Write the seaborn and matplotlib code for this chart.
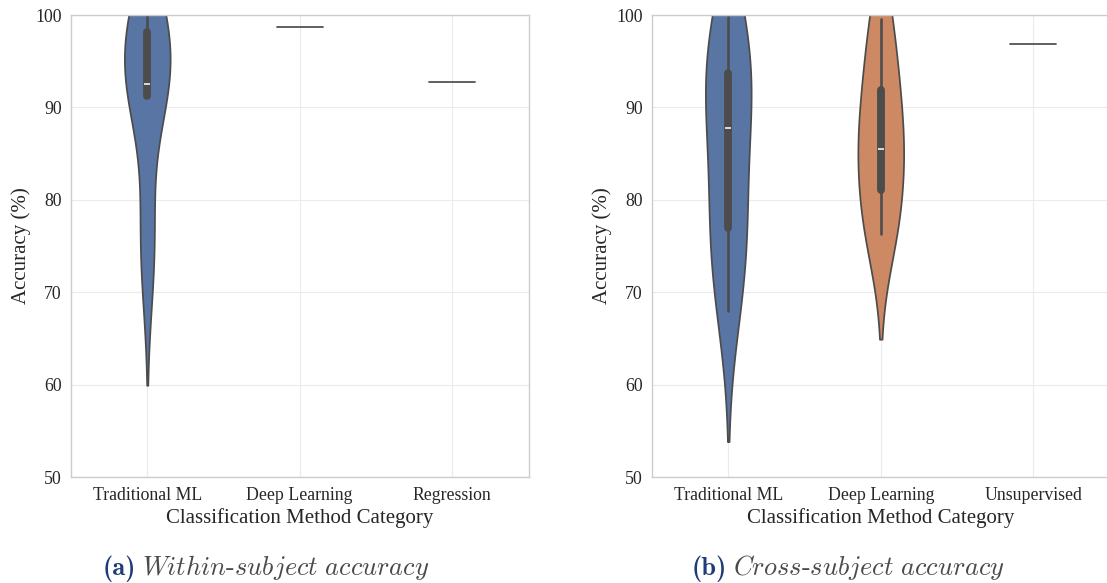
import numpy as np
import pandas as pd
import matplotlib
matplotlib.use("Agg")
import matplotlib.pyplot as plt
import seaborn as sns

# Within-subject accuracies (%) per method category
within_categories = ["Traditional ML", "Deep Learning", "Regression"]
within_traditional_ml = [72.2, 78.5, 91.2, 91.8, 92.5, 95.0, 98.2, 99.0, 100.0]
within_deep_learning = [98.7]
within_regression = [92.7]

# Cross-subject accuracies (%) per method category
cross_categories = ["Traditional ML", "Deep Learning", "Unsupervised"]
cross_traditional_ml = [68.0, 73.5, 76.9, 81.0, 87.8, 90.5, 93.7, 96.5, 99.8]
cross_deep_learning = [76.3, 78.0, 84.2, 85.5, 89.5, 94.3, 99.6]
cross_unsupervised = [96.9]

y_ticks = [50, 60, 70, 80, 90, 100]
x_label = "Classification Method Category"
y_label = "Accuracy (%)"


def long_form(categories, groups):
    rows = []
    for cat, vals in zip(categories, groups):
        rows.extend({"category": cat, "accuracy": v} for v in vals)
    return pd.DataFrame(rows)


df_within = long_form(within_categories,
                      [within_traditional_ml, within_deep_learning, within_regression])
df_cross = long_form(cross_categories,
                     [cross_traditional_ml, cross_deep_learning, cross_unsupervised])

sns.set_theme(style="whitegrid")
plt.rcParams["font.family"] = ["Liberation Serif", "DejaVu Serif"]
plt.rcParams["text.color"] = "#262626"
plt.rcParams["axes.labelcolor"] = "#262626"
plt.rcParams["xtick.color"] = "#262626"
plt.rcParams["ytick.color"] = "#262626"

W, H = 1107, 583
fig = plt.figure(figsize=(W / 100, H / 100), dpi=100)


def px_axes(left, top, width, height):
    return fig.add_axes([left / W, 1 - (top + height) / H, width / W, height / H])


ax_a = px_axes(71, 15, 457.5, 462)
ax_b = px_axes(652, 15, 457.5, 462)

palette = sns.color_palette("deep")[:3]

for ax, df, cats in [(ax_a, df_within, within_categories),
                     (ax_b, df_cross, cross_categories)]:
    sns.violinplot(data=df, x="category", y="accuracy", hue="category",
                   order=cats, hue_order=cats, palette=palette,
                   width=0.3, density_norm="width", inner="box",
                   legend=False, ax=ax)
    ax.set_ylim(50, 100)
    ax.set_yticks(y_ticks)
    ax.set_xlim(-0.5, 2.5)
    ax.set_xlabel(x_label, fontsize=15, labelpad=3)
    ax.set_ylabel(y_label, fontsize=15, labelpad=3)
    ax.tick_params(axis="both", labelsize=12.8, length=0)
    ax.tick_params(axis="y", pad=6.7)
    ax.tick_params(axis="x", pad=7.5)
    ax.grid(True, color="#ebebeb", linewidth=0.8)
    for sp in ax.spines.values():
        sp.set_color("#cccccc")
        sp.set_linewidth(1.0)

# Sub-figure captions: bold tag followed by italic description
navy = "#1f3c78"
grey = "#4a4a4a"
captions = [(103, "(a)", r"$\mathit{Within}$-$\mathit{subject\ accuracy}$"),
            (692, "(b)", r"$\mathit{Cross}$-$\mathit{subject\ accuracy}$")]
base_y = 1 - 575 / H
fig.canvas.draw()
renderer = fig.canvas.get_renderer()
for x0, tag, body in captions:
    t1 = fig.text(x0 / W, base_y, tag, color=navy, fontsize=19,
                  family="cmb10", va="baseline", ha="left")
    bb = t1.get_window_extent(renderer=renderer)
    fig.text((bb.x1 + 6) / W, base_y, body, color=grey, fontsize=19,
             math_fontfamily="cm", family="cmr10", va="baseline", ha="left")

fig.savefig("out.png", dpi=100)
